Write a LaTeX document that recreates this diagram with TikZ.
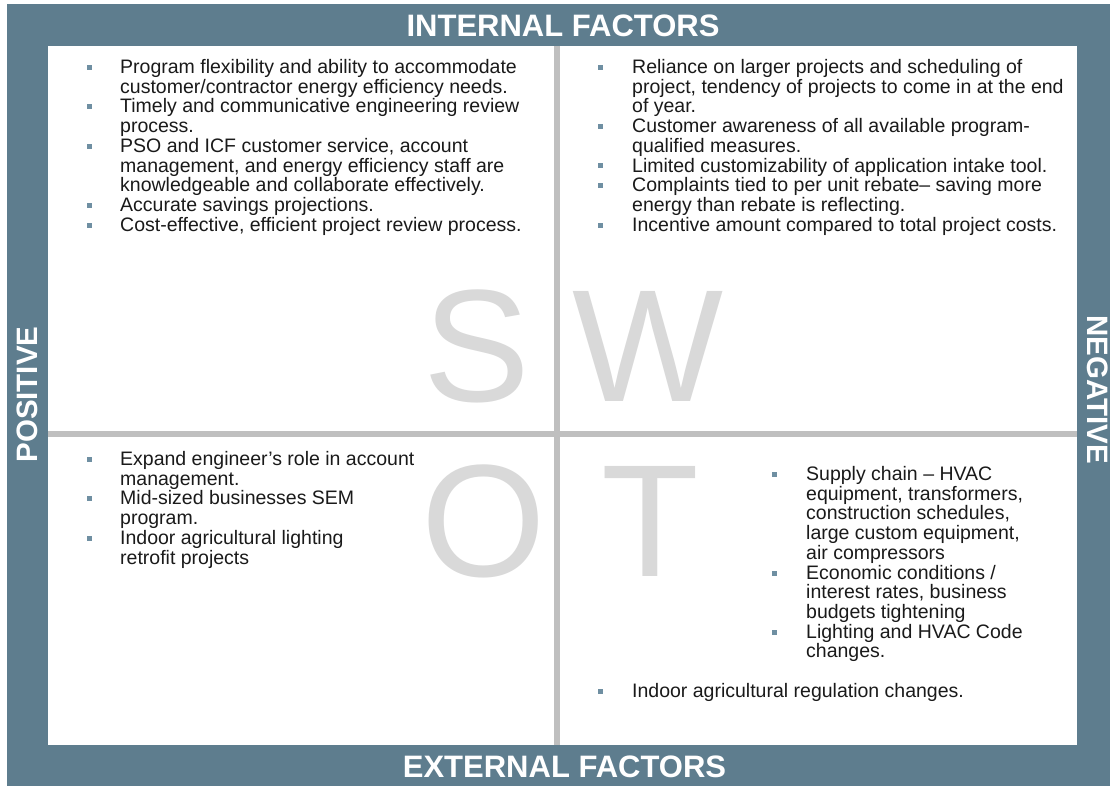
\documentclass[tikz,border=0pt]{standalone}
\usepackage{fontspec}
\setmainfont{Liberation Sans}
\usepackage{xcolor}
\usepackage{tikz}

\definecolor{framecol}{HTML}{5E7D8E}
\definecolor{bulcol}{HTML}{6F8FA2}
\definecolor{divcol}{HTML}{BFBFBF}
\definecolor{lettercol}{HTML}{D9D9D9}
\definecolor{txtcol}{HTML}{1A1A1A}

\tikzset{
  hdr/.style={text=white, inner sep=0, font=\fontsize{31}{31}\selectfont\bfseries},
  sidehdr/.style={hdr, font=\fontsize{29.5}{30}\selectfont\bfseries},
  bigletter/.style={text=lettercol, inner sep=0, anchor=base, font=\fontsize{160}{160}\selectfont},
  % first baseline sits on the given coordinate
  item/.style={text=txtcol, anchor=north west, yshift=13.79pt, align=left, inner sep=0,
    execute at begin node=\strut, font=\fontsize{19.5}{19.7}\selectfont},
  bul/.style={fill=bulcol, minimum size=5pt, inner sep=0}
}

\begin{document}
\begin{tikzpicture}[x=1pt,y=-1pt]
\useasboundingbox (0,0) rectangle (1110,786);
\clip (0,0) rectangle (1110,786);

% frame and white field
\fill[framecol] (7,4) rectangle (1120,786);
\fill[white] (48,46) rectangle (1077,745);

% quadrant dividers
\draw[divcol, line width=6pt] (557,46) -- (557,745);
\draw[divcol, line width=6pt] (48,434) -- (1077,434);

% big letters
\node[bigletter] (S) at (477,401) {S};
\node[bigletter] (W) at (648,401) {W};
\node[bigletter] (O) at (484,576) {O};
\node[bigletter] (T) at (650,576) {T};

% frame captions
\node[hdr] (internal) at (563,25.5) {INTERNAL FACTORS};
\node[hdr] (external) at (564.5,767) {EXTERNAL FACTORS};
\node[sidehdr, rotate=90] (positive) at (27,394.5) {POSITIVE};
\node[sidehdr, rotate=-90] (negative) at (1098,390) {NEGATIVE};

% strengths
\node[item] (s1) at (120,73) {Program flexibility and ability to accommodate\\customer/contractor energy efficiency needs.};
\node[item] (s2) at (120,112.4) {Timely and communicative engineering review\\process.};
\node[item] (s3) at (120,151.8) {PSO and ICF customer service, account\\management, and energy efficiency staff are\\knowledgeable and collaborate effectively.};
\node[item] (s4) at (120,210.9) {Accurate savings projections.};
\node[item] (s5) at (120,230.6) {Cost-effective, efficient project review process.};
\foreach \y [count=\i] in {73,112.4,151.8,210.9,230.6}
  \node[bul] (sb\i) at (89,\y-5.5) {};

% weaknesses
\node[item] (w1) at (632,73) {Reliance on larger projects and scheduling of\\project, tendency of projects to come in at the end\\of year.};
\node[item] (w2) at (632,132.1) {Customer awareness of all available program-\\qualified measures.};
\node[item] (w3) at (632,171.5) {Limited customizability of application intake tool.};
\node[item] (w4) at (632,191.2) {Complaints tied to per unit rebate-- saving more\\energy than rebate is reflecting.};
\node[item] (w5) at (632,230.6) {Incentive amount compared to total project costs.};
\foreach \y [count=\i] in {73,132.1,171.5,191.2,230.6}
  \node[bul] (wb\i) at (600,\y-5.5) {};

% opportunities
\node[item] (o1) at (120,465) {Expand engineer’s role in account\\management.};
\node[item] (o2) at (120,504.4) {Mid-sized businesses SEM\\program.};
\node[item] (o3) at (120,543.8) {Indoor agricultural lighting\\retrofit projects};
\foreach \y [count=\i] in {465,504.4,543.8}
  \node[bul] (ob\i) at (89,\y-5.5) {};

% threats
\node[item] (t1) at (806,480) {Supply chain -- HVAC\\equipment, transformers,\\construction schedules,\\large custom equipment,\\air compressors};
\node[item] (t2) at (806,578.5) {Economic conditions /\\interest rates, business\\budgets tightening};
\node[item] (t3) at (806,637.6) {Lighting and HVAC Code\\changes.};
\node[item] (t4) at (632,697) {Indoor agricultural regulation changes.};
\foreach \x/\y [count=\i] in {774/480,774/578.5,774/637.6,600/697}
  \node[bul] (tb\i) at (\x,\y-5.5) {};

\end{tikzpicture}
\end{document}
